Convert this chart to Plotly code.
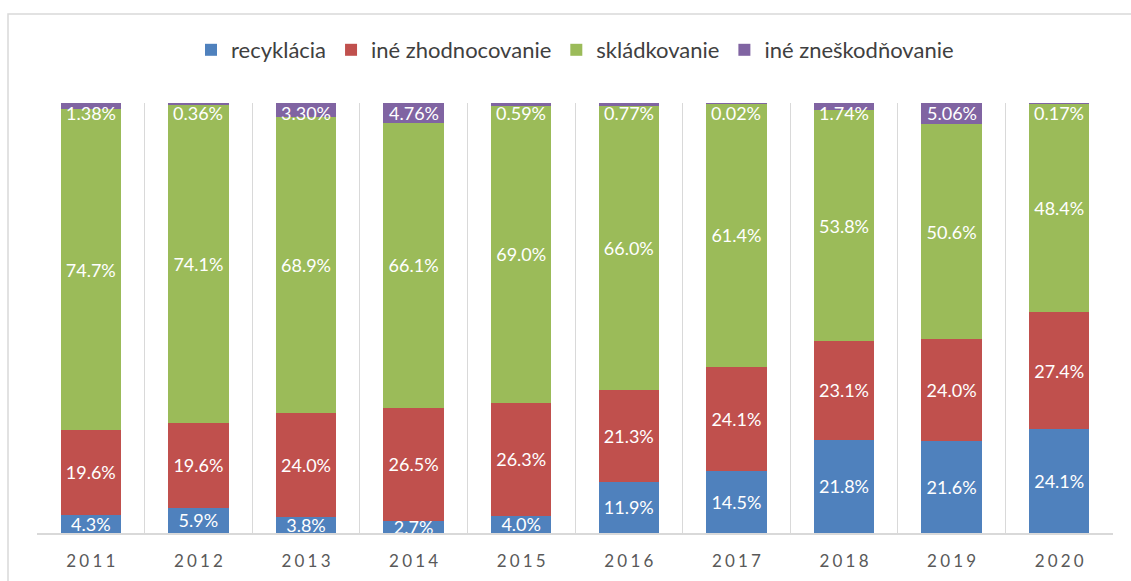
import plotly.graph_objects as go

years = ["2011", "2012", "2013", "2014", "2015", "2016", "2017", "2018", "2019", "2020"]
recyklacia = [4.3, 5.9, 3.8, 2.7, 4.0, 11.9, 14.5, 21.8, 21.6, 24.1]
ine_zhodnocovanie = [19.6, 19.6, 24.0, 26.5, 26.3, 21.3, 24.1, 23.1, 24.0, 27.4]
skladkovanie = [74.7, 74.1, 68.9, 66.1, 69.0, 66.0, 61.4, 53.8, 50.6, 48.4]
ine_zneskodnovanie = [1.38, 0.36, 3.30, 4.76, 0.59, 0.77, 0.02, 1.74, 5.06, 0.17]

W, H = 1131, 581
PLOT_L, PLOT_R, PLOT_T, PLOT_B = 37, 1113, 103, 533

FONT = "Lato, 'Open Sans', sans-serif"

# letter-spaced year labels, as in the source chart
x_labels = ["\u2009\u200a".join(y) for y in years]

series = [
    ("recyklácia", recyklacia, "#4F81BD"),
    ("iné zhodnocovanie", ine_zhodnocovanie, "#C0504D"),
    ("skládkovanie", skladkovanie, "#9BBB59"),
    ("iné zneškodňovanie", ine_zneskodnovanie, "#8064A2"),
]

fig = go.Figure()
for i, (name, vals, color) in enumerate(series):
    last = i == len(series) - 1
    fig.add_trace(go.Bar(
        x=x_labels,
        y=vals,
        name=name,
        marker=dict(color=color, line=dict(width=0)),
        text=None if last else [f"{v:.1f}%" for v in vals],
        textposition="inside",
        insidetextanchor="middle",
        textangle=0,
        textfont=dict(color="white", size=18, family=FONT),
    ))

# labels of the thin top segment sit just under the top edge
for lbl, v in zip(x_labels, ine_zneskodnovanie):
    fig.add_annotation(
        x=lbl, y=100, xref="x", yref="y", text=f"{v:.2f}%",
        showarrow=False, yanchor="top", yshift=3,
        font=dict(color="white", size=18, family=FONT),
    )

# chart frame (only left/top edges fall inside the picture)
pw = PLOT_R - PLOT_L
ph = PLOT_B - PLOT_T
fig.add_shape(
    type="rect", xref="paper", yref="paper",
    x0=(8 - PLOT_L) / pw, x1=(W + 10 - PLOT_L) / pw,
    y0=(PLOT_B - (H + 10)) / ph, y1=(PLOT_B - 14) / ph,
    line=dict(color="#D9D9D9", width=1.5), layer="below",
)

fig.update_layout(
    barmode="stack",
    barnorm="percent",
    bargap=0.44,
    width=W,
    height=H,
    paper_bgcolor="white",
    plot_bgcolor="white",
    font=dict(family=FONT, color="#595959"),
    margin=dict(l=PLOT_L, r=W - PLOT_R, t=PLOT_T, b=H - PLOT_B, autoexpand=False),
    uniformtext=dict(minsize=18, mode="show"),
    showlegend=True,
    legend=dict(
        orientation="h",
        x=0.5, xanchor="center",
        yref="container", y=1 - 50 / H, yanchor="middle",
        font=dict(size=22, color="#404040", family=FONT),
        itemwidth=30,
        traceorder="normal",
    ),
)

fig.update_xaxes(
    type="category",
    tickson="boundaries",
    ticks="",
    tickangle=0,
    showgrid=True,
    gridcolor="#D9D9D9",
    gridwidth=1,
    showline=True,
    linecolor="#D9D9D9",
    linewidth=2,
    tickfont=dict(size=17, color="#595959", family=FONT),
    ticklabelstandoff=12,
    automargin=False,
)
fig.update_yaxes(range=[0, 100], visible=False, showgrid=False)

fig.write_html(
    "out.html",
    config={"displayModeBar": False},
    post_script="document.body.style.margin='0';",
)
